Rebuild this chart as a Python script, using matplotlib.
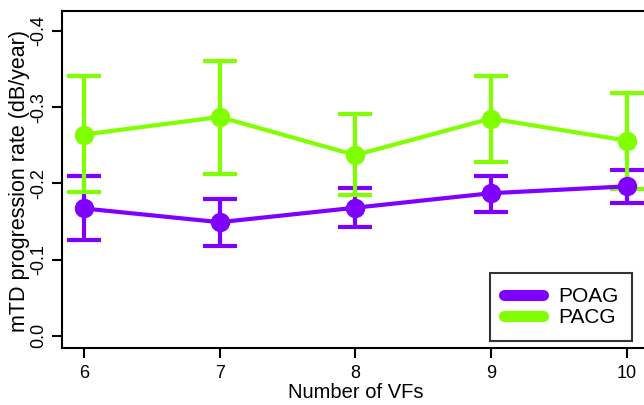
import matplotlib
matplotlib.use("Agg")
import matplotlib.pyplot as plt
from matplotlib.lines import Line2D
import numpy as np

plt.rcParams['font.family'] = ['Liberation Sans', 'DejaVu Sans']

n_vfs = [6, 7, 8, 9, 10]
poag_mean = [-0.167, -0.149, -0.168, -0.187, -0.196]
poag_lower = [-0.125, -0.118, -0.142, -0.165, -0.174]
poag_upper = [-0.209, -0.180, -0.193, -0.212, -0.218]
pacg_mean = [-0.264, -0.287, -0.237, -0.285, -0.256]
pacg_lower = [-0.187, -0.213, -0.183, -0.229, -0.193]
pacg_upper = [-0.340, -0.362, -0.289, -0.342, -0.319]
y_ticks = [0.0, -0.1, -0.2, -0.3, -0.4]
y_ticklabels = ["0.0", "-0.1", "-0.2", "-0.3", "-0.4"]
series_labels = ["POAG", "PACG"]

purple = "#7F00FF"
green = "#80FF00"

fig = plt.figure(figsize=(6.44, 4.05), dpi=100)
ax = fig.add_axes([0.0957, 0.14, 0.912, 0.8336])


def draw(mean, lo, hi, color, label):
    mean = np.array(mean)
    lo = np.array(lo)
    hi = np.array(hi)
    below = np.abs(mean - np.maximum(lo, hi))
    above = np.abs(np.minimum(lo, hi) - mean)
    ax.errorbar(n_vfs, mean, yerr=[below, above], color=color, lw=3,
                elinewidth=3, capsize=12, capthick=3, marker='o', ms=13,
                label=label, zorder=3)


draw(poag_mean, poag_lower, poag_upper, purple, series_labels[0])
draw(pacg_mean, pacg_lower, pacg_upper, green, series_labels[1])

ax.set_xlim(5.835, 10.165)
ax.set_ylim(0.0164, -0.4264)
ax.set_xticks(n_vfs)
ax.set_xticklabels([str(v) for v in n_vfs], fontsize=13)
ax.set_yticks(y_ticks)
ax.set_yticklabels(y_ticklabels, fontsize=13, rotation=90, va='center')
ax.tick_params(length=7, width=1.5, direction='out')
ax.tick_params(axis='x', pad=5)
ax.tick_params(axis='y', pad=3)
for s in ax.spines.values():
    s.set_linewidth(1.5)

ax.set_xlabel("Number of VFs", fontsize=14.5, va='center')
ax.xaxis.set_label_coords(0.5, -0.132)
ax.set_ylabel("mTD progression rate (dB/year)", fontsize=15.5, va='center')
ax.yaxis.set_label_coords(-0.071, 0.497)

handles = [Line2D([], [], color=purple, lw=8, solid_capstyle='round'),
           Line2D([], [], color=green, lw=8, solid_capstyle='round')]
leg = ax.legend(handles, series_labels, loc='lower right',
                bbox_to_anchor=(0.9711, 0.0216), bbox_transform=ax.transAxes,
                borderaxespad=0, fancybox=False, frameon=True, fontsize=15,
                handlelength=1.85, handletextpad=0.75, borderpad=0.65,
                labelspacing=0.12)
leg.get_frame().set_edgecolor('black')
leg.get_frame().set_linewidth(1.5)

fig.savefig("out.png", dpi=100)
